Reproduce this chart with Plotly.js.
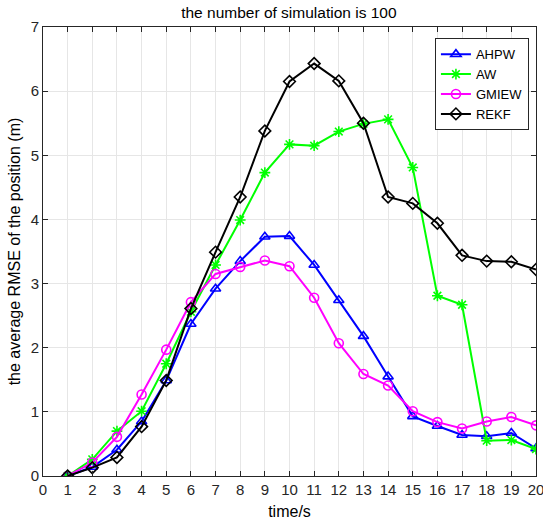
<!DOCTYPE html>
<html>
<head>
<meta charset="utf-8">
<script src="https://cdn.plot.ly/plotly-3.0.1.min.js"></script>
<style>html,body{margin:0;padding:0;background:#fff;}#chart{width:543px;height:521px;}</style>
</head>
<body>
<div id="chart"></div>
<script>
const timeSteps = [1,2,3,4,5,6,7,8,9,10,11,12,13,14,15,16,17,18,19,20];
const ahpw  = [0,0.14,0.41,0.85,1.49,2.37,2.92,3.35,3.73,3.74,3.29,2.74,2.18,1.55,0.93,0.78,0.64,0.62,0.67,0.43];
const aw    = [0,0.26,0.70,1.01,1.75,2.56,3.29,3.99,4.73,5.17,5.15,5.37,5.49,5.56,4.81,2.81,2.67,0.55,0.56,0.42];
const gmiew = [0,0.21,0.61,1.27,1.97,2.71,3.15,3.26,3.36,3.27,2.78,2.07,1.59,1.41,1.01,0.84,0.74,0.85,0.92,0.79];
const rekf  = [0,0.13,0.29,0.77,1.49,2.61,3.49,4.35,5.38,6.15,6.43,6.16,5.50,4.35,4.25,3.94,3.44,3.35,3.34,3.22];
const seriesNames = ['AHPW','AW','GMIEW','REKF'];
const xTicks = [0,1,2,3,4,5,6,7,8,9,10,11,12,13,14,15,16,17,18,19,20];
const yTicks = [0,1,2,3,4,5,6,7];

const font = 'Liberation Sans, Arial, Helvetica, sans-serif';
function tr(name, y, color, symbol) {
  return {x: timeSteps, y: y, name: name, type: 'scatter', mode: 'lines+markers',
    line: {color: color, width: 2},
    marker: {symbol: symbol, size: 9, color: color, line: {color: color, width: 1.6}}};
}
const data = [
  tr(seriesNames[0], ahpw, '#0000ff', 'triangle-up-open'),
  tr(seriesNames[1], aw, '#00ff00', 'asterisk-open'),
  tr(seriesNames[2], gmiew, '#ff00ff', 'circle-open'),
  tr(seriesNames[3], rekf, '#000000', 'diamond-open')
];
const axisCommon = {
  showline: true, linecolor: '#262626', linewidth: 1, mirror: 'allticks',
  ticks: 'inside', ticklen: 5, tickcolor: '#262626', tickwidth: 1,
  showgrid: true, gridcolor: '#e6e6e6', gridwidth: 1, zeroline: false,
  ticklabeloverflow: 'allow',
  tickfont: {family: font, size: 15, color: '#262626'}
};
const layout = {
  width: 543, height: 521,
  margin: {l: 43, r: 7, t: 27, b: 45},
  paper_bgcolor: '#fff', plot_bgcolor: '#fff',
  title: {text: 'the number of simulation is 100', font: {family: font, size: 15.5, color: '#000'},
          x: 0.532, xanchor: 'center', y: 0.975, yanchor: 'middle'},
  xaxis: Object.assign({}, axisCommon, {range: [0, 20], tickvals: xTicks, ticktext: xTicks.map(String),
    title: {text: 'time/s', font: {family: font, size: 16, color: '#000'}, standoff: 8}}),
  yaxis: Object.assign({}, axisCommon, {range: [0, 7], tickvals: yTicks, ticktext: yTicks.map(String),
    title: {text: 'the average RMSE of the position (m)', font: {family: font, size: 16, color: '#000'}, standoff: 6}}),
  legend: {x: 0.795, y: 0.975, xanchor: 'left', yanchor: 'top', bgcolor: '#fff',
    bordercolor: '#262626', borderwidth: 1, font: {family: font, size: 13, color: '#000'},
    tracegroupgap: 0, itemwidth: 30},
  showlegend: true
};
Plotly.newPlot('chart', data, layout, {displayModeBar: false, staticPlot: true});
</script>
</body>
</html>
